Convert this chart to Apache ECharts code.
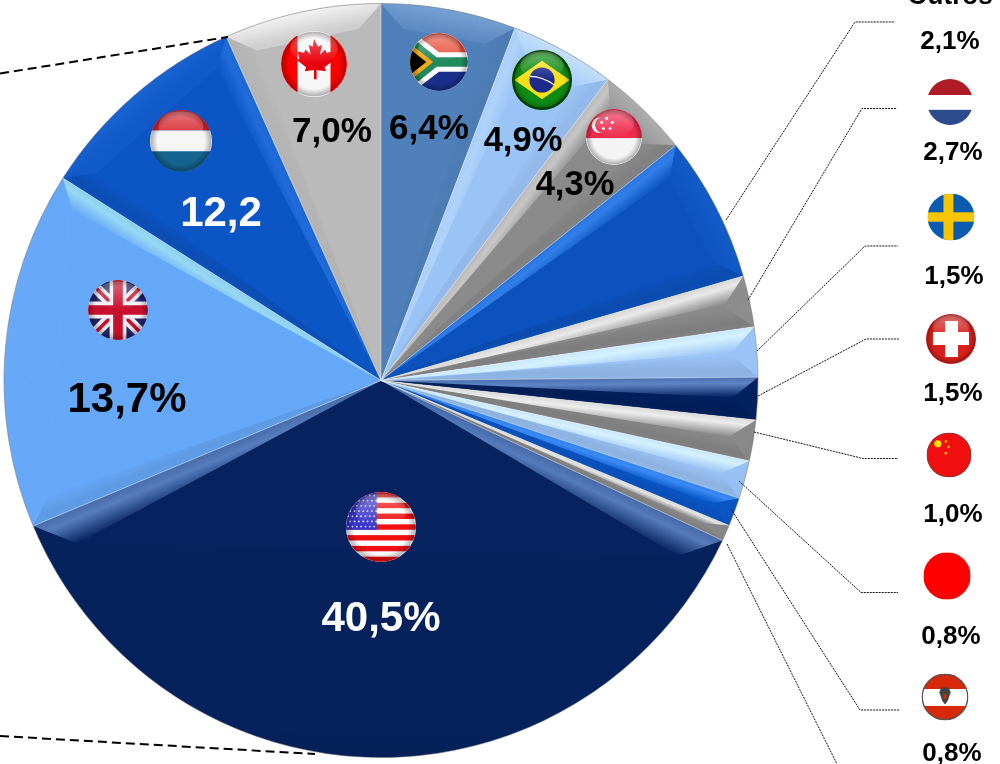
<!DOCTYPE html>
<html>
<head>
<meta charset="utf-8">
<style>html,body{margin:0;background:#fff}#chart{width:1000px;height:764px}</style>
<script src="https://cdn.jsdelivr.net/npm/echarts@6/dist/echarts.min.js"></script>
</head>
<body>
<div id="chart"></div>
<script>
// slice sizes as drawn (share of the circle), clockwise from 12 o'clock
const sliceNames = ["África do Sul", "Brasil", "Singapura", "Outros", "Holanda", "Suécia", "Suíça", "China", "Japão", "Áustria", "Outros 2", "EUA", "Reino Unido", "Luxemburgo", "Canadá"];
const sliceValues = [5.78, 4.5, 4.0, 6.25, 2.19, 2.14, 1.81, 1.75, 1.64, 1.22, 0.69, 36.72, 15.33, 9.25, 6.73];
const sliceColors = ["#4f80b9", "#9ac3f6", "#8a8a8a", "#0b52bf", "#8a8a8a", "#9ac3f6", "#03205f", "#8a8a8a", "#9ac3f6", "#0a56c8", "#8a8a8a", "#06235f", "#66a8f8", "#0c55c4", "#bababa"];
// bevel highlight tint and how strong the outer rim takes it
const sliceTints = ["170,205,245", "225,245,255", "255,255,255", "70,150,255", "255,255,255", "225,250,255", "110,150,215", "255,255,255", "225,250,255", "70,150,255", "255,255,255", "110,150,215", "170,235,240", "70,150,255", "255,255,255"];
const sliceRims = [0.5, 0.8, 0.5, 0.35, 0.2, 0.2, 0.2, 0.2, 0.2, 0.2, 0.2, 0.2, 0.3, 0.35, 1];

// printed texts
const pieLabels = ["6,4%", "4,9%", "4,3%", "12,2", "13,7%", "40,5%", "7,0%"];
const sideLabels = ["Outros", "2,1%", "2,7%", "1,5%", "1,5%", "1,0%", "0,8%", "0,8%"];

const CX = 381, CY = 380.5, R = 377;
const total = sliceValues.reduce((a, b) => a + b, 0);

// cumulative start/end for the bevel overlay
let acc = 0;
const bevelData = sliceValues.map((v) => {
  const item = [acc, acc + v];
  acc += v;
  return item;
});

function bevel(params, api) {
  const i = params.dataIndex;
  const a0 = api.value(0), a1 = api.value(1);
  const sweep = a1 - a0;
  const big = sweep > 30;
  const delta = Math.min((big ? 5.5 : 3.6) * total / 360, sweep / 2);
  const rIn = big ? 0.915 : 0.935;
  const c = api.coord([0, 0]);
  const p0 = api.coord([1, a0]), p1 = api.coord([1, a1]);
  const q0 = api.coord([rIn, a0 + delta]), q1 = api.coord([rIn, a1 - delta]);
  const th = (a) => (a / total) * 2 * Math.PI;

  // light comes from above: faces turned up get the tint, faces turned down get black
  const shade = (up, k) => {
    const a = up > 0 ? up * 0.85 * k : -up * 0.09;
    const rgb = up > 0 ? sliceTints[i] : "0,0,0";
    return (s) => `rgba(${rgb},${(a * s).toFixed(3)})`;
  };

  const band = (p, q, nx, ny, up) => {
    const dist = (q[0] - p[0]) * nx + (q[1] - p[1]) * ny;
    const col = shade(up, 1);
    return {
      type: "polygon",
      shape: { points: [c, p, q] },
      silent: true,
      style: {
        fill: new echarts.graphic.LinearGradient(p[0], p[1], p[0] + nx * dist, p[1] + ny * dist, [
          { offset: 0, color: col(0.8) },
          { offset: 0.3, color: col(1) },
          { offset: 1, color: col(0) },
        ], true),
      },
    };
  };

  const t0 = th(a0), t1 = th(a1), tm = th((a0 + a1) / 2);
  const children = [
    band(p0, q0, Math.cos(t0), Math.sin(t0), Math.sin(t0)),
    band(p1, q1, -Math.cos(t1), -Math.sin(t1), -Math.sin(t1)),
  ];

  // outer rim between arc and the inner mitre points
  const arc = [];
  const n = Math.max(4, Math.ceil(sweep * 2));
  for (let k = 0; k <= n; k++) arc.push(api.coord([1, a0 + (sweep * k) / n]));
  const rimCol = shade(Math.cos(tm), sliceRims[i]);
  const mid = api.coord([1, (a0 + a1) / 2]), midIn = api.coord([rIn, (a0 + a1) / 2]);
  children.push({
    type: "polygon",
    shape: { points: arc.concat([q1, q0]) },
    silent: true,
    style: {
      fill: new echarts.graphic.LinearGradient(mid[0], mid[1], midIn[0], midIn[1], [
        { offset: 0, color: rimCol(1) },
        { offset: 1, color: rimCol(0.35) },
      ], true),
    },
  });
  // hairline seam on the slice edge and soft grey line on the arc
  children.push({ type: "polyline", silent: true, shape: { points: [c, p0] }, style: { stroke: "rgba(255,255,255,0.4)", lineWidth: 1, fill: null } });
  children.push({ type: "polyline", silent: true, shape: { points: arc }, style: { stroke: "rgba(110,110,110,0.5)", lineWidth: 1, fill: null } });
  return { type: "group", children };
}

// --- flags ---
function flag(inner, gloss) {
  const g = gloss === false ? "" :
    '<ellipse cx="50" cy="26" rx="36" ry="24" fill="url(#g)"/><circle cx="50" cy="50" r="49" fill="url(#s)"/>';
  const svg = '<svg xmlns="http://www.w3.org/2000/svg" xmlns:xlink="http://www.w3.org/1999/xlink" width="200" height="200" viewBox="0 0 100 100"><defs>' +
    '<clipPath id="c"><circle cx="50" cy="50" r="50"/></clipPath>' +
    '<linearGradient id="g" x1="0" y1="0" x2="0" y2="1"><stop offset="0" stop-color="#fff" stop-opacity=".38"/><stop offset="1" stop-color="#fff" stop-opacity="0"/></linearGradient>' +
    '<radialGradient id="s"><stop offset=".78" stop-color="#000" stop-opacity="0"/><stop offset="1" stop-color="#000" stop-opacity=".3"/></radialGradient>' +
    '</defs><g clip-path="url(#c)">' + inner + g + "</g></svg>";
  return "data:image/svg+xml;charset=utf-8," + encodeURIComponent(svg);
}

function usStripes() {
  let s = '<rect width="100" height="100" fill="#fff"/>';
  for (let i = 0; i < 7; i++) s += `<rect y="${i * 15.4}" width="100" height="7.7" fill="#f01010"/>`;
  s += '<rect width="44" height="54" fill="#3a36c8"/>';
  for (let y = 0; y < 7; y++) for (let x = 0; x < 7; x++) s += `<circle cx="${3 + x * 6.2 + (y % 2) * 3}" cy="${5 + y * 7.4}" r="1.3" fill="#dfe4ff"/>`;
  return s;
}
const maple = '<path d="M50 12 l6 12 6-3 -3 15 8-8 2 5 10-2 -3 11 4 2 -14 11 2 6 -14-2 v14 h-4 v-14 l-14 2 2-6 -14-11 4-2 -3-11 10 2 2-5 8 8 -3-15 6 3z" fill="#e8000d"/>';

const flags = [
  { c: [314, 64], r: 33, src: flag('<rect width="100" height="100" fill="#f6f6f6"/><rect width="25" height="100" fill="#f00"/><rect x="75" width="25" height="100" fill="#f00"/>' + maple) },
  { c: [439, 62], r: 29, src: flag('<rect width="100" height="100" fill="#fff"/><rect width="100" height="42" fill="#e8523f"/><rect y="58" width="100" height="42" fill="#1a2f8c"/><path d="M0 -5 L50 33 H100 V67 H50 L0 105z" fill="#fff"/><path d="M0 5 L46 42 H100 V58 H46 L0 95z" fill="#1f8a5c"/><path d="M0 18 L40 50 L0 82z" fill="#f0a81c"/><path d="M0 28 L28 50 L0 72z" fill="#000"/>') },
  { c: [542, 80], r: 30, src: flag('<rect width="100" height="100" fill="#0f8a12"/><path d="M50 18 L96 50 L50 82 L4 50z" fill="#f7e017"/><circle cx="50" cy="50" r="21" fill="#1c2a8c"/><path d="M30 44 Q50 44 70 58" stroke="#fff" stroke-width="2" fill="none"/><circle cx="50" cy="50" r="48" fill="none" stroke="#054d08" stroke-width="4"/>') },
  { c: [614, 137], r: 28, src: flag('<rect width="100" height="52" fill="#ef2b4d"/><rect y="52" width="100" height="48" fill="#f4f4f4"/><circle cx="24" cy="29" r="14" fill="#fff"/><circle cx="30" cy="29" r="14" fill="#ef2b4d"/><circle cx="37" cy="17" r="2.6" fill="#fff"/><circle cx="47" cy="24" r="2.6" fill="#fff"/><circle cx="43" cy="35" r="2.6" fill="#fff"/><circle cx="31" cy="35" r="2.6" fill="#fff"/><circle cx="28" cy="24" r="2.6" fill="#fff"/>') },
  { c: [181, 141], r: 31, src: flag('<rect width="100" height="33" fill="#d8262e"/><rect y="33" width="100" height="34" fill="#f6f6f6"/><rect y="67" width="100" height="33" fill="#14648f"/>') },
  { c: [118, 310], r: 30, src: flag('<rect width="100" height="100" fill="#24246e"/><path d="M0 0 L100 100 M100 0 L0 100" stroke="#e8e8f0" stroke-width="18"/><path d="M0 0 L100 100 M100 0 L0 100" stroke="#c8102e" stroke-width="6"/><path d="M50 0 V100 M0 50 H100" stroke="#f0f0f5" stroke-width="28"/><path d="M50 0 V100 M0 50 H100" stroke="#c8102e" stroke-width="16"/>') },
  { c: [381, 527], r: 35, src: flag(usStripes()) },
  { c: [950, 102], r: 23, src: flag('<rect width="100" height="35" fill="#ae1c28"/><rect y="35" width="100" height="32" fill="#fff"/><rect y="67" width="100" height="33" fill="#2c4a8c"/>', false) },
  { c: [951, 217], r: 23.5, src: flag('<rect width="100" height="100" fill="#0b5cb0"/><rect x="34" width="21" height="100" fill="#f7c600"/><rect y="40" width="100" height="20" fill="#f7c600"/>', false) },
  { c: [951, 339], r: 25, src: flag('<rect width="100" height="100" fill="#d8201c"/><rect x="38" y="14" width="26" height="72" fill="#fff"/><rect x="14" y="36" width="72" height="26" fill="#fff"/>') },
  { c: [949, 455], r: 22.5, src: flag('<rect width="100" height="100" fill="#f00e0e"/><circle cx="25" cy="25" r="8" fill="#fce300"/><circle cx="43" cy="20" r="3" fill="#f6b400"/><circle cx="49" cy="32" r="3" fill="#f6b400"/><circle cx="43" cy="46" r="3" fill="#f6b400"/><circle cx="50" cy="50" r="49" fill="none" stroke="#555" stroke-width="2"/>', false) },
  { c: [947, 576], r: 23.7, src: flag('<rect width="100" height="100" fill="#ff0000"/>', false) },
  { c: [945, 697], r: 23.5, src: flag('<rect width="100" height="100" fill="#d8280a"/><rect y="33" width="100" height="36" fill="#fff"/><path d="M42 30 h16 l4 10 -6 18 -6 8 -6-8 -6-18z" fill="#444"/><rect x="47" y="44" width="6" height="10" fill="#d8280a"/><circle cx="50" cy="50" r="48.5" fill="none" stroke="#555" stroke-width="3"/>', false) },
];

// annotation layout
const pieLabelPos = [[429, 129, 35, "#000"], [523, 141, 34.5, "#000"], [575, 185, 34.5, "#000"], [221, 214, 42, "#fff"], [127, 400, 42, "#000"], [381, 619, 42, "#fff"], [332, 132, 35, "#000"]];
const sideLabelPos = [[950, -3], [950, 42], [953, 153], [954, 277], [953, 394], [953, 515], [951, 637], [952, 754]];
const leaders = [
  [[726, 220], [855, 22], [895, 22]],
  [[748, 300], [862, 108.5], [897, 108.5]],
  [[757, 351], [865, 246], [898, 246]],
  [[758, 396], [866, 339], [899, 339]],
  [[754, 432], [863, 458.5], [898, 458.5]],
  [[739, 481], [861, 592.5], [898, 592.5]],
  [[731, 509], [860, 710], [900, 710]],
  [[727, 544], [837, 764]],
];
const dashed = [[[0, 73.5], [228, 37]], [[0, 736], [315, 754]]];

const graphics = [];
leaders.forEach((pts) => graphics.push({ type: "polyline", silent: true, z: 20, shape: { points: pts }, style: { stroke: "#111", lineWidth: 1, lineDash: [2, 1], fill: null } }));
dashed.forEach((pts) => graphics.push({ type: "polyline", silent: true, z: 20, shape: { points: pts }, style: { stroke: "#000", lineWidth: 2, lineDash: [9, 5], fill: null } }));
flags.forEach((f) => graphics.push({ type: "image", silent: true, z: 21, style: { image: f.src, x: f.c[0] - f.r, y: f.c[1] - f.r, width: f.r * 2, height: f.r * 2 } }));
pieLabels.forEach((t, i) => {
  const p = pieLabelPos[i];
  graphics.push({ type: "text", silent: true, z: 22, style: { text: t, x: p[0], y: p[1], fill: p[3], font: `bold ${p[2]}px "Liberation Sans", Arial, sans-serif`, textAlign: "center", textVerticalAlign: "middle" } });
});
sideLabels.forEach((t, i) => {
  const p = sideLabelPos[i];
  graphics.push({ type: "text", silent: true, z: 22, style: { text: t, x: p[0], y: p[1], fill: "#000", font: 'bold 26px "Liberation Sans", Arial, sans-serif', textAlign: "center", textVerticalAlign: "middle" } });
});

const chart = echarts.init(document.getElementById("chart"));
chart.setOption({
  animation: false,
  backgroundColor: "#fff",
  polar: { center: [CX, CY], radius: R },
  angleAxis: { type: "value", min: 0, max: total, startAngle: 90, show: false },
  radiusAxis: { type: "value", min: 0, max: 1, show: false },
  series: [
    {
      type: "pie",
      center: [CX, CY],
      radius: [0, R],
      startAngle: 90,
      clockwise: true,
      silent: true,
      label: { show: false },
      labelLine: { show: false },
      z: 2,
      data: sliceValues.map((v, i) => ({ name: sliceNames[i], value: v, itemStyle: { color: sliceColors[i] } })),
    },
    {
      type: "custom",
      coordinateSystem: "polar",
      silent: true,
      clip: false,
      z: 3,
      renderItem: bevel,
      data: bevelData,
    },
  ],
  graphic: { elements: graphics },
});
</script>
</body>
</html>
